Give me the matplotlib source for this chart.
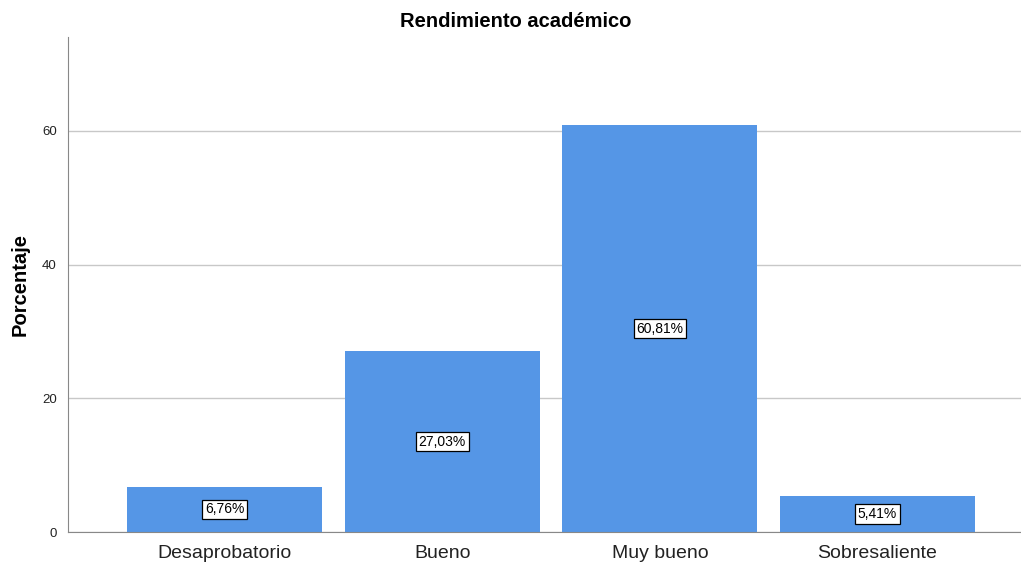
import matplotlib
matplotlib.use("Agg")
import matplotlib.pyplot as plt

plt.rcParams['font.family'] = ['Liberation Sans', 'DejaVu Sans']

# Datos
categorias = ["Desaprobatorio", "Bueno", "Muy bueno", "Sobresaliente"]
porcentajes = [6.76, 27.03, 60.81, 5.41]
etiquetas = ["6,76%", "27,03%", "60,81%", "5,41%"]

fig = plt.figure(figsize=(10.21, 5.63), dpi=100)
ax = fig.add_axes([0.0666, 0.055, 0.9334, 0.879])

x = range(len(categorias))
ax.bar(x, porcentajes, width=0.897, color="#5596e6", zorder=2)

for xi, v, t in zip(x, porcentajes, etiquetas):
    ax.text(xi, v / 2, t, ha="center", va="center", fontsize=10, zorder=3,
            bbox=dict(boxstyle="square,pad=0.2", fc="white", ec="black", lw=0.9))

ax.set_xlim(-0.72, 3.66)
ax.set_ylim(0, 74)
ax.set_yticks([0, 20, 40, 60])
ax.set_xticks(list(x))
ax.set_xticklabels(categorias, fontsize=14)
ax.tick_params(axis="x", length=0, pad=9, colors="#222222")
ax.tick_params(axis="y", length=0, pad=8, labelsize=9.5, colors="#222222")

ax.yaxis.grid(True, color="#c8c8c8", lw=1, zorder=1)
for s in ["top", "right"]:
    ax.spines[s].set_visible(False)
ax.spines["left"].set_color("#888888")
ax.spines["bottom"].set_color("#888888")

ax.set_ylabel("Porcentaje", fontsize=14.5, fontweight="bold", labelpad=9)
fig.text(0.505, 0.961, "Rendimiento académico", ha="center", va="center",
         fontsize=14.5, fontweight="bold")

fig.savefig("out.png", dpi=100)
